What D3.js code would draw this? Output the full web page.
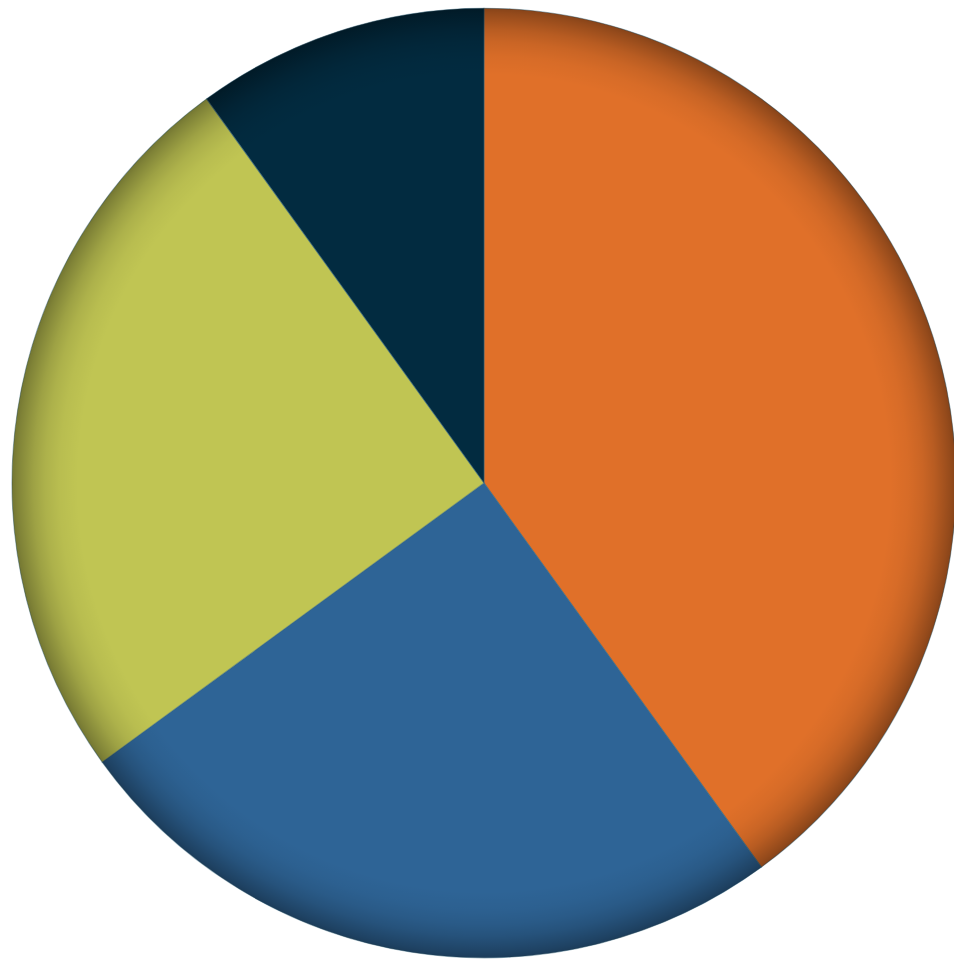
<!DOCTYPE html>
<html>
<head>
<meta charset="utf-8">
<script src="https://cdn.jsdelivr.net/npm/d3@7"></script>
<style>
  html, body { margin: 0; padding: 0; background: #ffffff; }
  svg { display: block; }
</style>
</head>
<body>
<svg id="chart" width="954" height="960"></svg>
<script>
const categories = ["A", "B", "C", "D"];
const values = [40, 25, 25, 10];
const colors = ["#E07029", "#2E6496", "#C0C553", "#022B40"];

const svg = d3.select("#chart");
const cx = 484, cy = 483, r = 472;

const defs = svg.append("defs");
const grad = defs.append("radialGradient")
  .attr("id", "rim")
  .attr("cx", "50%").attr("cy", "50%").attr("r", "50%");
const stops = [[0.86, 0], [0.90, 0.04], [0.93, 0.10], [0.955, 0.18], [0.975, 0.27], [0.99, 0.34], [1, 0.40]];
stops.forEach(s => grad.append("stop").attr("offset", s[0]).attr("stop-color", "#000").attr("stop-opacity", s[1]));

const g = svg.append("g").attr("transform", `translate(${cx},${cy}) scale(1,1.006)`);

const color = d3.scaleOrdinal().domain(categories).range(colors);
const pie = d3.pie().sort(null).value(d => d.v);
const arc = d3.arc().innerRadius(0).outerRadius(r);

const data = categories.map((c, i) => ({ c, v: values[i] }));

g.selectAll("path.slice")
  .data(pie(data))
  .join("path")
  .attr("class", "slice")
  .attr("d", arc)
  .attr("fill", d => color(d.data.c))
  .attr("stroke", "#3a6a80")
  .attr("stroke-opacity", 0.5)
  .attr("stroke-width", 1);

g.append("circle")
  .attr("r", r)
  .attr("fill", "url(#rim)");
</script>
</body>
</html>
